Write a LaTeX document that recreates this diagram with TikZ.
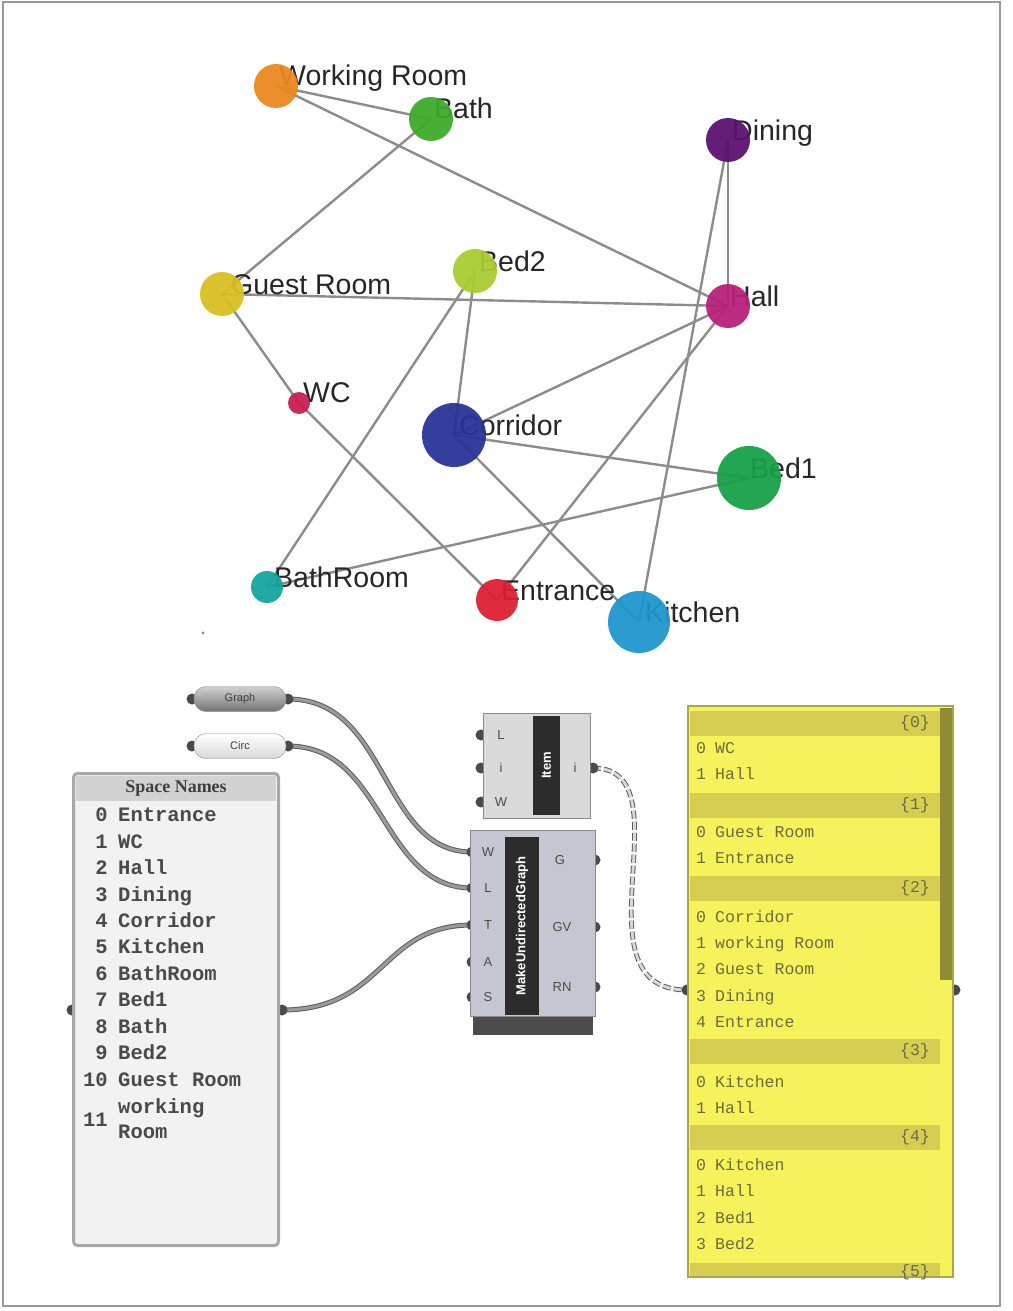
\documentclass[tikz,border=0pt]{standalone}
\usepackage{fontspec}
\setmainfont{Liberation Sans}
\newfontfamily\monof{Liberation Mono}
\newfontfamily\seriff{Liberation Serif}
\pgfdeclarelayer{back}
\pgfdeclarelayer{bg}
\pgfdeclarelayer{mid}
\pgfsetlayers{back,bg,mid,main}
\definecolor{cWR}{HTML}{EB871E}
\definecolor{cBath}{HTML}{3CAA28}
\definecolor{cDin}{HTML}{5C1070}
\definecolor{cGR}{HTML}{D8C020}
\definecolor{cBed2}{HTML}{A8CC30}
\definecolor{cHall}{HTML}{B8207A}
\definecolor{cWC}{HTML}{C81E50}
\definecolor{cCor}{HTML}{283296}
\definecolor{cBed1}{HTML}{16A048}
\definecolor{cBR}{HTML}{14A5A0}
\definecolor{cEnt}{HTML}{DC1E32}
\definecolor{cKit}{HTML}{1E96CD}
\definecolor{edgegray}{HTML}{8C8C8C}
\definecolor{gripc}{HTML}{4A4A4A}
\definecolor{wireout}{HTML}{5E5E5E}
\definecolor{wirein}{HTML}{9A9A9A}
\definecolor{snframe}{HTML}{A8A8A8}
\definecolor{snfill}{HTML}{F2F2F2}
\definecolor{snhead}{HTML}{D2D2D2}
\definecolor{sntext}{HTML}{4A4A4A}
\definecolor{compframe}{HTML}{8A8A8A}
\definecolor{compfill}{HTML}{DADADA}
\definecolor{mainfill}{HTML}{C6C6D2}
\definecolor{band}{HTML}{2C2C2C}
\definecolor{pframe}{HTML}{A8A848}
\definecolor{pyellow}{HTML}{F6F25C}
\definecolor{phead}{HTML}{D6CE52}
\definecolor{pscroll}{HTML}{8E8C34}
\definecolor{ptext}{HTML}{6E6C3C}
\begin{document}
\begin{tikzpicture}[x=1pt,y=-1pt,
  vtx/.style={circle,inner sep=0pt,fill opacity=0.94,draw=none},
  lbl/.style={anchor=base west,inner sep=0pt,text=black!85,font=\fontsize{28.5}{30}\selectfont},
  edge/.style={draw=edgegray,line width=2.4pt},
  grip/.style={circle,fill=gripc,draw=none,minimum size=11pt,inner sep=0pt},
  ghwire/.style={draw=wireout,line width=1pt,double=wirein,double distance=3pt},
  treewire/.style={draw=wireout,line width=1pt,double=white!85!black,double distance=2.8pt,dash pattern=on 8pt off 3pt},
  capsule/.style={draw=compframe,rounded corners=12pt,minimum width=92pt,minimum height=25pt,inner sep=0pt,text=black!75,font=\fontsize{11}{11}\selectfont},
  snrow/.style={inner sep=0pt,text=sntext,font=\monof\bfseries\fontsize{20.5}{20.5}\selectfont},
  prow/.style={inner sep=0pt,text=ptext,font=\monof\fontsize{16.5}{16.5}\selectfont},
  plabel/.style={inner sep=0pt,text=black!70,font=\fontsize{13}{13}\selectfont},
  phdr/.style={fill=phead,minimum width=250pt,minimum height=25pt,inner sep=0pt},
  bandlbl/.style={fill=band,inner sep=0pt,rotate=90,text=white,font=\bfseries\fontsize{13}{13}\selectfont}
]
\useasboundingbox (0,0) rectangle (1012,1311);
\begin{pgfonlayer}{back}
\fill[white] (0,0) rectangle (1012,1311);
\draw[draw=black!40,line width=2pt] (3,2) rectangle (1000,1306);
\end{pgfonlayer}

% ---------------- graph ----------------
\node[vtx,minimum size=44pt,fill=cWR] (wr) at (276,86) {};
\node[vtx,minimum size=44pt,fill=cBath] (bath) at (431,119) {};
\node[vtx,minimum size=44pt,fill=cDin] (din) at (728,140) {};
\node[vtx,minimum size=44pt,fill=cGR] (gr) at (222,294) {};
\node[vtx,minimum size=44pt,fill=cBed2] (bed2) at (475,271) {};
\node[vtx,minimum size=44pt,fill=cHall] (hall) at (728,306) {};
\node[vtx,minimum size=22pt,fill=cWC] (wc) at (299,403) {};
\node[vtx,minimum size=64pt,fill=cCor] (cor) at (454,435) {};
\node[vtx,minimum size=64pt,fill=cBed1] (bed1) at (749,478) {};
\node[vtx,minimum size=32pt,fill=cBR] (br) at (267,587) {};
\node[vtx,minimum size=42pt,fill=cEnt] (ent) at (497,600) {};
\node[vtx,minimum size=62pt,fill=cKit] (kit) at (639,622) {};
\fill[black!45] (203,633) circle (1.6pt);

\begin{pgfonlayer}{mid}
\node[lbl] (wrL) at (279,86) {Working Room};
\node[lbl] (bathL) at (434,119) {Bath};
\node[lbl] (dinL) at (732,140) {Dining};
\node[lbl] (grL) at (231,294) {Guest Room};
\node[lbl] (bed2L) at (479,271) {Bed2};
\node[lbl] (hallL) at (730,306) {Hall};
\node[lbl] (wcL) at (303,402) {WC};
\node[lbl] (corL) at (459,435) {Corridor};
\node[lbl] (bed1L) at (750,478) {Bed1};
\node[lbl] (brL) at (274,587) {BathRoom};
\node[lbl] (entL) at (501,600) {Entrance};
\node[lbl] (kitL) at (645,622) {Kitchen};
\end{pgfonlayer}

\begin{pgfonlayer}{bg}
\draw[edge] (wr.center) -- (bath.center);
\draw[edge] (wr.center) -- (hall.center);
\draw[edge] (gr.center) -- (bath.center);
\draw[edge] (gr.center) -- (hall.center);
\draw[edge] (gr.center) -- (wc.center);
\draw[edge] (wc.center) -- (ent.center);
\draw[edge] (bed2.center) -- (cor.center);
\draw[edge] (bed2.center) -- (br.center);
\draw[edge] (din.center) -- (hall.center);
\draw[edge] (din.center) -- (kit.center);
\draw[edge] (hall.center) -- (cor.center);
\draw[edge] (hall.center) -- (ent.center);
\draw[edge] (cor.center) -- (bed1.center);
\draw[edge] (cor.center) -- (kit.center);
\draw[edge] (bed1.center) -- (br.center);
\end{pgfonlayer}

% ---------------- Grasshopper part ----------------
% capsules
\node[grip] (c1i) at (192,699) {};
\node[grip] (c1o) at (288,699) {};
\node[capsule,top color=black!18,bottom color=black!55] (graphp) at (240,699) {Graph};
\node[grip] (c2i) at (192,746) {};
\node[grip] (c2o) at (288,746) {};
\node[capsule,top color=white,bottom color=black!15] (circp) at (240,746) {Circ};

% Space Names panel
\node[grip] (sni) at (72,1010) {};
\node[grip] (sno) at (282,1010) {};
\node[draw=snframe,line width=3pt,fill=snfill,rounded corners=4pt,minimum width=205pt,minimum height=472pt,inner sep=0pt] (sn) at (176,1009.5) {};
\node[fill=snhead,minimum width=200pt,minimum height=25pt,inner sep=0pt,text=black!75,font=\seriff\bfseries\fontsize{18}{18}\selectfont] (snh) at (176,788) {Space Names};
\foreach \i/\t/\y in {0/Entrance/815,1/WC/842,2/Hall/868,3/Dining/895,4/Corridor/921,5/Kitchen/947,6/BathRoom/974,7/Bed1/1000,8/Bath/1027,9/Bed2/1053,10/Guest Room/1080}{
  \node[snrow,anchor=base east] (snn\i) at (108,\y+6) {\i};
  \node[snrow,anchor=base west] (snt\i) at (118,\y+6) {\t};
}
\node[snrow,anchor=base east] (snn11) at (108,1126) {11};
\node[snrow,anchor=base west] (snt11a) at (118,1113) {working};
\node[snrow,anchor=base west] (snt11b) at (118,1138) {Room};

% Item component
\node[grip] (ii1) at (481,735) {};
\node[grip] (ii2) at (481,768) {};
\node[grip] (ii3) at (481,802) {};
\node[grip] (io) at (593,768) {};
\node[draw=compframe,fill=compfill,minimum width=107pt,minimum height=105pt,inner sep=0pt] (item) at (536.5,765.5) {};
\node[bandlbl,minimum width=99pt,minimum height=27pt] (itemb) at (546.5,765.5) {Item};
\node[plabel] (itL) at (501,735) {L};
\node[plabel] (itI) at (501,768) {i};
\node[plabel] (itW) at (501,802) {W};
\node[plabel] (itO) at (575,768) {i};

% main component
\node[grip] (mW) at (472,852) {};
\node[grip] (mL) at (472,888) {};
\node[grip] (mT) at (472,925) {};
\node[grip] (mA) at (472,962) {};
\node[grip] (mS) at (472,997) {};
\node[grip] (mG) at (595,860) {};
\node[grip] (mGV) at (595,927) {};
\node[grip] (mRN) at (595,987) {};
\node[fill=band!85,minimum width=120pt,minimum height=22pt,inner sep=0pt] (mbase) at (532.5,1024) {};
\node[draw=compframe,fill=mainfill,minimum width=125pt,minimum height=186pt,inner sep=0pt] (main) at (532.5,923) {};
\node[bandlbl,minimum width=178pt,minimum height=34pt] (mainb) at (522,926) {MakeUndirectedGraph};
\node[plabel] (mlW) at (488,852) {W};
\node[plabel] (mlL) at (488,888) {L};
\node[plabel] (mlT) at (488,925) {T};
\node[plabel] (mlA) at (488,962) {A};
\node[plabel] (mlS) at (488,997) {S};
\node[plabel] (mlG) at (560,860) {G};
\node[plabel] (mlGV) at (562,927) {GV};
\node[plabel] (mlRN) at (562,987) {RN};

% yellow panel
\node[grip] (pi) at (687,990) {};
\node[grip] (po) at (955,990) {};
\node[draw=pframe,line width=2pt,fill=pyellow,minimum width=265pt,minimum height=571pt,inner sep=0pt] (pan) at (820.5,991.5) {};
\node[fill=pscroll,minimum width=12pt,minimum height=272pt,inner sep=0pt] (scroll) at (946,844) {};
\foreach \k/\y in {0/723,1/805,2/888,3/1051,4/1137}{
  \node[phdr] (ph\k) at (815,\y) {};
  \node[prow,anchor=east] (phl\k) at (930,\y) {\{\k\}};
}
\node[fill=phead,minimum width=250pt,minimum height=13pt,inner sep=0pt] (ph5) at (815,1269.5) {};
\node[prow,anchor=east] (phl5) at (930,1272) {\{5\}};
\foreach \n/\i/\t/\y in {a/0/WC/748,b/1/Hall/774,c/0/Guest Room/832,d/1/Entrance/858,e/0/Corridor/917,f/1/working Room/943,g/2/Guest Room/969,h/3/Dining/996,j/4/Entrance/1022,k/0/Kitchen/1082,l/1/Hall/1108,m/0/Kitchen/1165,n/1/Hall/1191,o/2/Bed1/1218,p/3/Bed2/1244}{
  \node[prow,anchor=base] (pn\n) at (701,\y+5) {\i};
  \node[prow,anchor=base west] (pt\n) at (715,\y+5) {\t};
}

% wires
\begin{pgfonlayer}{bg}
\draw[ghwire] (c1o.center) .. controls (390,699) and (380,852) .. (mW.center);
\draw[ghwire] (c2o.center) .. controls (385,746) and (380,888) .. (mL.center);
\draw[ghwire] (sno.center) .. controls (385,1010) and (380,925) .. (mT.center);
\draw[treewire] (io.center) .. controls (690,768) and (570,990) .. (pi.center);
\end{pgfonlayer}
\end{tikzpicture}
\end{document}
